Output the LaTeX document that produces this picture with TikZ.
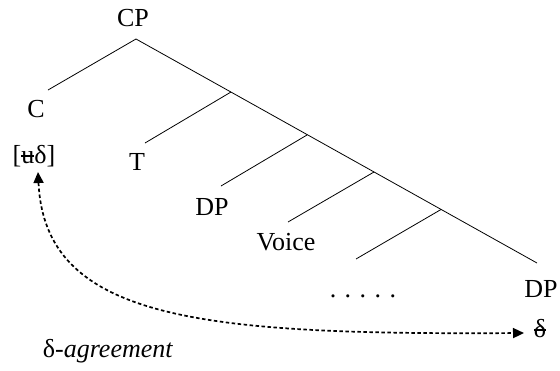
\documentclass[tikz,border=0pt]{standalone}
\usepackage{fontspec}
\setmainfont{Liberation Serif}
\newfontfamily\tnr{Liberation Serif}
\usetikzlibrary{arrows.meta}
\newcommand{\strk}[1]{\setbox0\hbox{#1}\rlap{\rule[0.24em]{\wd0}{0.05em}}\box0}
\tikzset{
  lbl/.style={anchor=base, inner sep=0pt, font=\tnr\fontsize{26}{30}\selectfont},
  branch/.style={line width=0.8pt},
  agree/.style={line width=1.7pt, dash pattern=on 3.5pt off 2.5pt}
}
\begin{document}
\begin{tikzpicture}[x=1pt,y=-1pt]
\useasboundingbox (0,0) rectangle (560,370);
% labels
\node[lbl] (cp) at (133,26) {CP};
\node[lbl] (c) at (36,117) {C};
\node[lbl] (ud) at (34,163) {[\strk{u}δ]};
\node[lbl] (t) at (137,170) {T};
\node[lbl] (dp1) at (212,215) {DP};
\node[lbl] (voice) at (286,250) {Voice};
\node[lbl] (dots) at (363,297) {.\hspace{8.5pt}.\hspace{8.5pt}.\hspace{8.5pt}.\hspace{8.5pt}.};
\node[lbl] (dp2) at (541,297) {DP};
\node[lbl] (d) at (540,337) {\strk{δ}};
\node[lbl] (agr) at (108,357) {δ-\textit{agreement}};
% tree coordinates
\coordinate (apex) at (136,39);
\coordinate (cend) at (48,90);
\coordinate (mend) at (537,263);
\coordinate (b1) at (231,92);
\coordinate (e1) at (145,143);
\coordinate (b2) at (307,135);
\coordinate (e2) at (221,186);
\coordinate (b3) at (374,172);
\coordinate (e3) at (288,222);
\coordinate (b4) at (441,209.5);
\coordinate (e4) at (356,259);
\draw[branch] (cend) -- (apex) -- (mend);
\draw[branch] (b1) -- (e1);
\draw[branch] (b2) -- (e2);
\draw[branch] (b3) -- (e3);
\draw[branch] (b4) -- (e4);
% agreement arrow
\coordinate (tipL) at (38,172);
\coordinate (tipR) at (524,333);
\draw[agree, {Triangle[length=11pt,width=10pt]}-{Triangle[length=11pt,width=10pt]}] (tipL) .. controls (45,320) and (200,335) .. (tipR);
\end{tikzpicture}
\end{document}
